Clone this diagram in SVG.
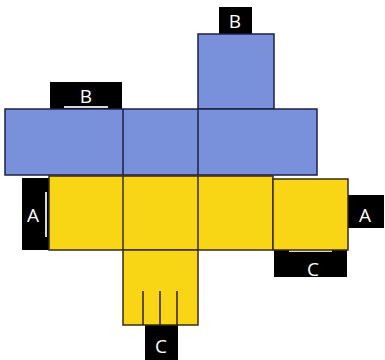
<svg xmlns="http://www.w3.org/2000/svg" width="385" height="360" viewBox="0 0 385 360">
<style>
.blue{fill:#7891da;stroke:#1c1f45;stroke-width:1.5}
.yel{fill:#f8d515;stroke:#3a2a1a;stroke-width:1.5}
.tab{fill:#000}
.lbl{fill:#fff;font-family:"Open Sans","Liberation Sans",sans-serif;font-size:19px;text-anchor:middle}
.hl{stroke:#d8d8d8;stroke-width:2}
.ln{stroke:#2a2010;stroke-width:1.5}
</style>
<rect width="385" height="360" fill="#fff"/>
<g id="tabs">
<g id="tab-b-top"><rect class="tab" x="219" y="7" width="33" height="27"/><text class="lbl" x="235" y="28">B</text></g>
<g id="tab-b-left"><rect class="tab" x="50" y="82" width="72" height="27"/><text class="lbl" x="86" y="103">B</text><line class="hl" x1="64" y1="107" x2="108" y2="107"/></g>
<g id="tab-a-left"><rect class="tab" x="22" y="178" width="27" height="72"/><text class="lbl" x="33" y="222">A</text><line class="hl" x1="46" y1="192" x2="46" y2="237"/></g>
<g id="tab-a-right"><rect class="tab" x="348" y="195" width="36" height="33"/><text class="lbl" x="365" y="222">A</text></g>
<g id="tab-c-right"><rect class="tab" x="274" y="249" width="73" height="28"/><text class="lbl" x="313" y="276">C</text><line class="hl" x1="289" y1="251" x2="332" y2="251"/></g>
<g id="tab-c-bottom"><rect class="tab" x="145" y="325" width="33" height="35"/><text class="lbl" x="161" y="353">C</text></g>
</g>
<g id="faces">
<g id="blue-top"><rect class="blue" x="198" y="34" width="76" height="75"/></g>
<g id="blue-row"><rect class="blue" x="5" y="109" width="312" height="66"/><line class="blue" x1="123" y1="109" x2="123" y2="175"/><line class="blue" x1="198" y1="109" x2="198" y2="175"/></g>
<g id="yellow-row"><rect class="yel" x="49" y="176" width="224" height="74"/><line class="yel" x1="123" y1="176" x2="123" y2="250"/><line class="yel" x1="198" y1="176" x2="198" y2="250"/></g>
<g id="yellow-right"><rect class="yel" x="273" y="179" width="75" height="71"/></g>
<g id="yellow-bottom"><rect class="yel" x="123" y="250" width="75" height="75"/>
<line class="ln" x1="143" y1="291" x2="143" y2="325"/><line class="ln" x1="160" y1="291" x2="160" y2="325"/><line class="ln" x1="177" y1="291" x2="177" y2="325"/></g>
</g>
</svg>
